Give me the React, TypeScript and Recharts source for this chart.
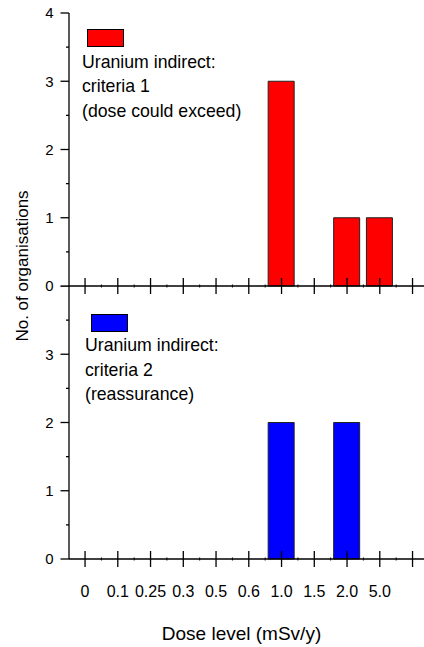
import { BarChart, Bar, XAxis, YAxis, Legend, Label } from "recharts";

const doseLevels = ["0", "0.1", "0.25", "0.3", "0.5", "0.6", "1.0", "1.5", "2.0", "5.0"];
const criteria1Counts = [0, 0, 0, 0, 0, 0, 3, 0, 1, 1];
const criteria2Counts = [0, 0, 0, 0, 0, 0, 2, 0, 2, 0];
const criteria1Lines = ["Uranium indirect:", "criteria 1", "(dose could exceed)"];
const criteria2Lines = ["Uranium indirect:", "criteria 2", "(reassurance)"];
const yTicks = [0, 0.5, 1, 1.5, 2, 2.5, 3, 3.5, 4];
const yRightTicks = [1, 2, 3];
const xMajorTicks = [0, 1, 2, 3, 4, 5, 6, 7, 8, 9, 10];
const xAllTicks = [0, 0.5, 1, 1.5, 2, 2.5, 3, 3.5, 4, 4.5, 5, 5.5, 6, 6.5, 7, 7.5, 8, 8.5, 9, 9.5, 10];

const data = doseLevels.map((dose, i) => ({
  x: i,
  dose,
  c1: criteria1Counts[i],
  c2: criteria2Counts[i],
}));

const FONT = '"Liberation Sans", Arial, sans-serif';
const X_DOMAIN: [number, number] = [-0.49, 10.35];
const AXIS = { stroke: "#000", strokeWidth: 1.3 };

function XTick({ x, y, payload, labels }: any) {
  const v = payload.value;
  const major = Number.isInteger(v);
  const len = major ? 8 : 1.5;
  const text = labels && major ? doseLevels[v] ?? "" : "";
  return (
    <g>
      <line x1={x} x2={x} y1={y - len} y2={y + len} stroke="#000" strokeWidth={major ? 1.3 : 1} />
      {text && (
        <text x={x} y={y + 37.5} textAnchor="middle" fontFamily={FONT} fontSize={16} fill="#000">
          {text}
        </text>
      )}
    </g>
  );
}

function TopTick({ x, y }: any) {
  return <line x1={x} x2={x} y1={y} y2={y + 7} stroke="#000" strokeWidth={1.3} />;
}

function YTick({ x, y, payload, hideTop }: any) {
  const v = payload.value;
  const major = Number.isInteger(v);
  const showLabel = major && !(hideTop && v === 4);
  return (
    <g>
      <line x1={x - (major ? 8.5 : 3)} x2={x} y1={y} y2={y} stroke="#000" strokeWidth={1.3} />
      {showLabel && (
        <text x={x - 15.5} y={y + 5.4} textAnchor="end" fontFamily={FONT} fontSize={15} fill="#000">
          {v}
        </text>
      )}
    </g>
  );
}

function RightTick({ x, y }: any) {
  return <line x1={x - 4} x2={x} y1={y} y2={y} stroke="#000" strokeWidth={1.3} />;
}

function LegendBlock({ color, lines, boxOffset, boxWidth, boxHeight, gap }: any) {
  return (
    <div style={{ fontFamily: FONT, fontSize: 17.7, lineHeight: "24.5px", color: "#000", whiteSpace: "nowrap" }}>
      <div
        style={{
          marginLeft: boxOffset,
          width: boxWidth,
          height: boxHeight,
          boxSizing: "border-box",
          background: color,
          border: "1px solid #000",
          marginBottom: gap,
        }}
      />
      {lines.map((l: string) => (
        <div key={l}>{l}</div>
      ))}
    </div>
  );
}

export default function App() {
  return (
    <div style={{ position: "absolute", left: 0, top: 0, width: 424, height: 647, background: "#fff" }}>
      <div style={{ position: "absolute", left: 0, top: 0 }}>
        <BarChart width={424} height={300} data={data} margin={{ top: 13, right: 0, bottom: 0, left: 0 }} barSize={26}>
          <XAxis
            xAxisId="b"
            dataKey="x"
            type="number"
            domain={X_DOMAIN}
            allowDataOverflow
            ticks={xAllTicks}
            interval={0}
            height={14}
            tickSize={0}
            tickMargin={0}
            tickLine={false}
            axisLine={AXIS}
            tick={(p: any) => <XTick {...p} labels={false} />}
          />
          <XAxis
            xAxisId="t"
            orientation="top"
            dataKey="x"
            type="number"
            domain={X_DOMAIN}
            allowDataOverflow
            ticks={xMajorTicks}
            interval={0}
            height={0}
            tickSize={0}
            tickMargin={0}
            tickLine={false}
            axisLine={AXIS}
            tick={(p: any) => <TopTick {...p} />}
          />
          <YAxis
            yAxisId="l"
            width={69}
            domain={[0, 4]}
            ticks={yTicks}
            interval={0}
            tickSize={0}
            tickMargin={0}
            tickLine={false}
            axisLine={AXIS}
            tick={(p: any) => <YTick {...p} />}
          />
          <YAxis
            yAxisId="r"
            orientation="right"
            mirror
            width={0}
            domain={[0, 4]}
            ticks={yRightTicks}
            interval={0}
            tickSize={0}
            tickMargin={0}
            tickLine={false}
            axisLine={false}
            tick={(p: any) => <RightTick {...p} />}
          />
          <Bar xAxisId="b" yAxisId="l" dataKey="c1" fill="#ff0000" stroke="#222" strokeWidth={1} isAnimationActive={false} />
          <Legend
            layout="vertical"
            align="center"
            verticalAlign="middle"
            wrapperStyle={{ left: 82, top: 29, width: "auto" }}
            content={() => (
              <LegendBlock color="#ff0000" lines={criteria1Lines} boxOffset={5.3} boxWidth={36.5} boxHeight={17.5} gap={3.3} />
            )}
          />
        </BarChart>
      </div>
      <div style={{ position: "absolute", left: 0, top: 286 }}>
        <BarChart width={424} height={361} data={data} margin={{ top: 0, right: 0, bottom: 0, left: 0 }} barSize={26}>
          <XAxis
            xAxisId="b"
            dataKey="x"
            type="number"
            domain={X_DOMAIN}
            allowDataOverflow
            ticks={xAllTicks}
            interval={0}
            height={88}
            tickSize={0}
            tickMargin={0}
            tickLine={false}
            axisLine={AXIS}
            tick={(p: any) => <XTick {...p} labels />}
          >
            <Label
              content={({ viewBox }: any) => (
                <text
                  x={viewBox.x + viewBox.width / 2 - 5}
                  y={viewBox.y + viewBox.height - 7}
                  textAnchor="middle"
                  fontFamily={FONT}
                  fontSize={19}
                  fill="#000"
                >
                  Dose level (mSv/y)
                </text>
              )}
            />
          </XAxis>
          <YAxis
            yAxisId="l"
            width={69}
            domain={[0, 4]}
            ticks={yTicks}
            interval={0}
            tickSize={0}
            tickMargin={0}
            tickLine={false}
            axisLine={AXIS}
            tick={(p: any) => <YTick {...p} hideTop />}
          />
          <YAxis
            yAxisId="r"
            orientation="right"
            mirror
            width={0}
            domain={[0, 4]}
            ticks={yRightTicks}
            interval={0}
            tickSize={0}
            tickMargin={0}
            tickLine={false}
            axisLine={false}
            tick={(p: any) => <RightTick {...p} />}
          />
          <Bar xAxisId="b" yAxisId="l" dataKey="c2" fill="#0000ff" stroke="#222" strokeWidth={1} isAnimationActive={false} />
          <Legend
            layout="vertical"
            align="center"
            verticalAlign="middle"
            wrapperStyle={{ left: 85, top: 28.3, width: "auto" }}
            content={() => (
              <LegendBlock color="#0000ff" lines={criteria2Lines} boxOffset={6} boxWidth={36.7} boxHeight={18} gap={1} />
            )}
          />
        </BarChart>
      </div>
      <svg style={{ position: "absolute", left: 0, top: 0 }} width={40} height={647}>
        <text
          x={22}
          y={266}
          transform="rotate(-90, 22, 266)"
          textAnchor="middle"
          dominantBaseline="central"
          fontFamily={FONT}
          fontSize={17}
          fill="#000"
        >
          No. of organisations
        </text>
      </svg>
    </div>
  );
}
